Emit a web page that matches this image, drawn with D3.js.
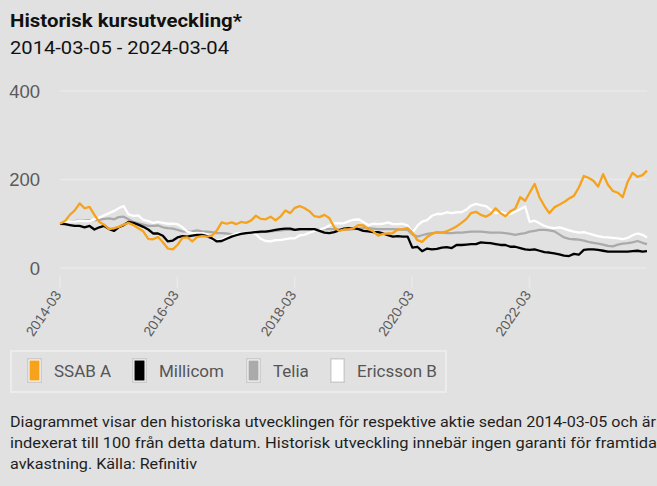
<!DOCTYPE html>
<html>
<head>
<meta charset="utf-8">
<script src="https://cdn.jsdelivr.net/npm/d3@7"></script>
<style>
  html, body { margin: 0; padding: 0; background: #e1e1e1; }
  svg { display: block; }
</style>
</head>
<body>
<script>
// ---------- DATA ----------
const dates = [
  "2014-03-05","2014-04-05","2014-05-05","2014-06-05","2014-07-05","2014-08-05","2014-09-05","2014-10-05","2014-11-05","2014-12-05",
  "2015-01-05","2015-02-05","2015-03-05","2015-04-05","2015-05-05","2015-06-05","2015-07-05","2015-08-05","2015-09-05","2015-10-05","2015-11-05","2015-12-05",
  "2016-01-05","2016-02-05","2016-03-05","2016-04-05","2016-05-05","2016-06-05","2016-07-05","2016-08-05","2016-09-05","2016-10-05","2016-11-05","2016-12-05",
  "2017-01-05","2017-02-05","2017-03-05","2017-04-05","2017-05-05","2017-06-05","2017-07-05","2017-08-05","2017-09-05","2017-10-05","2017-11-05","2017-12-05",
  "2018-01-05","2018-02-05","2018-03-05","2018-04-05","2018-05-05","2018-06-05","2018-07-05","2018-08-05","2018-09-05","2018-10-05","2018-11-05","2018-12-05",
  "2019-01-05","2019-02-05","2019-03-05","2019-04-05","2019-05-05","2019-06-05","2019-07-05","2019-08-05","2019-09-05","2019-10-05","2019-11-05","2019-12-05",
  "2020-01-05","2020-02-05","2020-03-05","2020-04-05","2020-05-05","2020-06-05","2020-07-05","2020-08-05","2020-09-05","2020-10-05","2020-11-05","2020-12-05",
  "2021-01-05","2021-02-05","2021-03-05","2021-04-05","2021-05-05","2021-06-05","2021-07-05","2021-08-05","2021-09-05","2021-10-05","2021-11-05","2021-12-05",
  "2022-01-05","2022-02-05","2022-03-05","2022-04-05","2022-05-05","2022-06-05","2022-07-05","2022-08-05","2022-09-05","2022-10-05","2022-11-05","2022-12-05",
  "2023-01-05","2023-02-05","2023-03-05","2023-04-05","2023-05-05","2023-06-05","2023-07-05","2023-08-05","2023-09-05","2023-10-05","2023-11-05","2023-12-05",
  "2024-01-05","2024-02-05","2024-03-04"
];

const ssabA = [
  100,106,120,130,146,135,138,120,104,98,
  88,90,93,98,102,97,90,83,66,65,
  70,58,44,42,52,68,69,60,70,72,
  71,73,85,103,100,103,99,104,102,107,
  118,111,110,116,108,116,130,124,136,140,
  135,128,117,115,120,113,92,84,87,88,
  90,97,96,88,83,73,77,78,79,87,
  88,90,80,63,59,70,77,81,80,83,
  88,94,102,111,124,127,120,116,122,135,
  124,117,128,134,160,152,170,190,160,140,
  124,137,143,149,157,163,182,208,204,197,
  184,212,188,174,170,160,195,215,206,210,
  220
];

const millicom = [
  100,99,97,95,95,92,95,87,92,95,
  88,84,92,97,104,102,98,93,87,78,
  78,73,60,62,69,72,71,73,75,75,
  72,67,60,61,66,71,74,77,79,80,
  81,82,82,84,86,88,89,89,86,88,
  88,88,88,84,80,79,81,85,89,90,
  90,88,84,83,81,81,78,74,71,72,
  71,71,46,48,38,44,42,43,46,47,
  45,52,52,53,54,54,58,57,56,54,
  52,52,48,48,45,42,41,42,39,36,
  35,33,31,28,27,32,30,41,42,42,
  41,39,37,37,37,37,37,38,39,37,
  38
];

const telia = [
  100,102,104,106,108,107,108,108,109,111,
  112,110,115,116,110,104,101,98,95,95,
  96,92,90,89,86,83,82,83,85,83,
  82,81,79,79,78,76,76,78,79,80,
  80,81,82,83,84,85,86,86,86,87,
  88,87,86,87,88,88,88,87,86,87,
  88,89,90,90,89,88,88,88,88,87,
  87,86,76,71,74,77,79,80,80,79,
  79,80,80,81,82,82,82,81,80,80,
  80,79,77,75,77,79,82,84,86,86,
  85,83,76,69,66,65,64,62,59,57,
  55,53,50,49,53,55,56,58,61,57,
  54
];

const ericssonB = [
  100,103,105,105,107,106,106,110,114,119,
  124,129,135,140,121,118,119,109,106,102,
  104,102,100,100,99,92,82,79,79,79,
  76,64,62,64,70,74,78,79,80,82,
  76,66,61,60,63,63,65,67,67,74,
  75,80,84,87,90,96,101,101,101,106,
  109,110,104,97,100,99,100,103,99,99,
  100,96,80,95,105,108,118,122,122,126,
  124,126,126,132,141,145,142,140,132,124,
  127,123,122,127,133,139,104,107,101,95,
  92,90,92,89,85,82,80,81,78,75,
  72,70,69,68,67,65,68,74,78,75,
  69
];

const seriesNames = ["SSAB A", "Millicom", "Telia", "Ericsson B"];
const seriesColors = ["#f7a21b", "#000000", "#aaaaaa", "#ffffff"];
const yTicks = [0, 200, 400];
const xTickLabels = ["2014-03", "2016-03", "2018-03", "2020-03", "2022-03"];

const titleText = "Historisk kursutveckling*";
const subtitleText = "2014-03-05 - 2024-03-04";
const footerLines = [
  "Diagrammet visar den historiska utvecklingen för respektive aktie sedan 2014-03-05 och är",
  "indexerat till 100 från detta datum. Historisk utveckling innebär ingen garanti för framtida",
  "avkastning. Källa: Refinitiv"
];

// ---------- CHART ----------
const W = 657, H = 486;
const parse = d3.timeParse("%Y-%m-%d");
const parseMonth = d3.timeParse("%Y-%m");
const dateObjs = dates.map(parse);
const seriesValues = [ssabA, millicom, telia, ericssonB];

const svg = d3.select("body").append("svg").attr("width", W).attr("height", H);
svg.append("rect").attr("width", W).attr("height", H).attr("fill", "#e1e1e1");

const FONT = "Roboto, 'Open Sans', sans-serif";
const AXFONT = "'Liberation Sans', Arial, sans-serif";

// Title
svg.append("text").attr("x", 10).attr("y", 27)
  .attr("font-family", FONT).attr("font-weight", 700).attr("font-size", 19)
  .attr("fill", "#111").attr("textLength", 232).attr("lengthAdjust", "spacingAndGlyphs")
  .text(titleText);
svg.append("text").attr("x", 10).attr("y", 54)
  .attr("font-family", FONT).attr("font-weight", 400).attr("font-size", 19)
  .attr("fill", "#111").attr("textLength", 219).attr("lengthAdjust", "spacingAndGlyphs")
  .text(subtitleText);

const x = d3.scaleTime()
  .domain([dateObjs[0], dateObjs[dateObjs.length - 1]])
  .range([60, 647]);
const y = d3.scaleLinear().domain([0, 400]).range([268, 91]);

// Horizontal gridlines
svg.append("g").selectAll("line").data(yTicks).join("line")
  .attr("x1", 60).attr("x2", 647)
  .attr("y1", d => y(d)).attr("y2", d => y(d))
  .attr("stroke", "#e9e9e9").attr("stroke-width", 1.5);

// Y axis labels
svg.append("g").selectAll("text").data(yTicks).join("text")
  .attr("x", 40).attr("y", d => y(d) + 6.5)
  .attr("text-anchor", "end")
  .attr("font-family", AXFONT).attr("font-size", 18.5).attr("fill", "#5a5a5a")
  .text(d => d);

// X axis
const xTickDates = xTickLabels.map(s => parseMonth(s));
const xAxis = d3.axisBottom(x)
  .tickValues(xTickDates)
  .tickSize(12)
  .tickFormat(d3.timeFormat("%Y-%m"));
const gx = svg.append("g").attr("transform", "translate(0,276)").call(xAxis);
gx.select(".domain").remove();
gx.selectAll(".tick line").attr("stroke", "#e9e9e9").attr("stroke-width", 1.5);
gx.selectAll(".tick text")
  .attr("font-family", AXFONT).attr("font-size", 14).attr("fill", "#5a5a5a")
  .attr("text-anchor", "end")
  .attr("transform", "translate(-2,16) rotate(-56)")
  .attr("x", 0).attr("y", 0).attr("dy", "0.35em");

// Lines
const line = d3.line()
  .x((d, i) => x(dateObjs[i]))
  .y(d => y(d));
const drawOrder = [2, 3, 1, 0];
svg.append("g").selectAll("path").data(drawOrder).join("path")
  .attr("d", k => line(seriesValues[k]))
  .attr("fill", "none")
  .attr("stroke", k => seriesColors[k])
  .attr("stroke-width", 2.3)
  .attr("stroke-linejoin", "round");

// Legend
const lg = svg.append("g");
lg.append("rect").attr("x", 11).attr("y", 351).attr("width", 435).attr("height", 41)
  .attr("fill", "none").attr("stroke", "#ececec").attr("stroke-width", 2);
const swatchX = [27, 132, 246, 330];
const items = lg.selectAll("g.item").data(seriesNames).join("g").attr("class", "item")
  .attr("transform", (d, i) => `translate(${swatchX[i]},358)`);
items.append("rect").attr("x", 0.75).attr("y", 0.75).attr("width", 13.5).attr("height", 23.5)
  .attr("fill", "#ffffff").attr("stroke", "#cccccc").attr("stroke-width", 1.5);
items.append("rect").attr("x", 2.5).attr("y", 2.5).attr("width", 10).attr("height", 20)
  .attr("fill", (d, i) => seriesColors[i]);
items.append("text").attr("x", 27).attr("y", 19)
  .attr("font-family", FONT).attr("font-size", 17).attr("fill", "#555")
  .text(d => d);

// Footer
const widths = [646, 647, 187];
footerLines.forEach((t, i) => {
  svg.append("text").attr("x", 10).attr("y", 427 + i * 21)
    .attr("font-family", FONT).attr("font-size", 14.5).attr("fill", "#1e1e1e")
    .attr("textLength", widths[i]).attr("lengthAdjust", "spacingAndGlyphs")
    .text(t);
});
</script>
</body>
</html>
